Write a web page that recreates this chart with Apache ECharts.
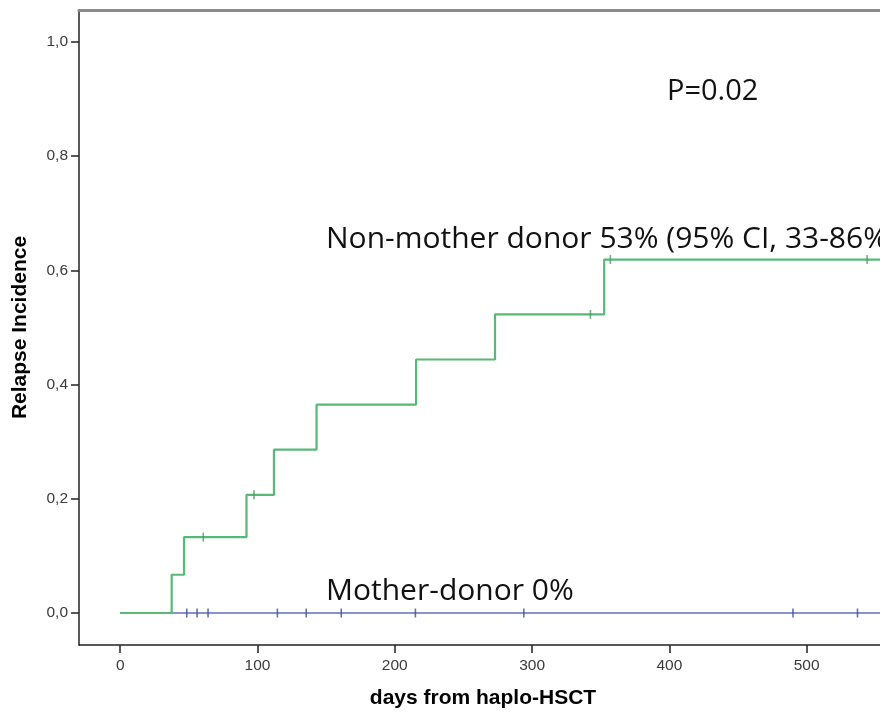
<!DOCTYPE html>
<html>
<head>
<meta charset="utf-8">
<script src="https://cdn.jsdelivr.net/npm/echarts@6/dist/echarts.min.js"></script>
<style>html,body{margin:0;padding:0;background:#fff;}#c{width:880px;height:718px;}</style>
</head>
<body>
<div id="c"></div>
<script>
// Non-mother donor cumulative incidence steps (days, incidence)
const nonMotherTimes = [0, 37.5, 46.5, 92, 112, 143, 215.5, 273, 352.5, 560];
const nonMotherValues = [0, 0.067, 0.133, 0.207, 0.286, 0.365, 0.444, 0.523, 0.619, 0.619];
// Censored observations, non-mother donor
const nonMotherCensorTimes = [60.5, 97.5, 342.5, 357, 544];
const nonMotherCensorValues = [0.133, 0.207, 0.523, 0.619, 0.619];
// Mother donor: no relapses
const motherTimes = [0, 560];
const motherValues = [0, 0];
const motherCensorTimes = [48.5, 56, 64, 114.5, 135.5, 161, 215, 294, 490, 537];
// Tick labels
const xTicks = [0, 100, 200, 300, 400, 500];
const yTicks = [0, 0.2, 0.4, 0.6, 0.8, 1.0];

const toPairs = (xs, ys) => xs.map((x, i) => [x, ys[i]]);

const chart = echarts.init(document.getElementById('c'), null, {renderer: 'canvas'});
const annoFont = '"Open Sans", "Noto Sans", sans-serif';
const axisFont = '"Liberation Sans", Arial, sans-serif';
chart.setOption({
  animation: false,
  backgroundColor: '#ffffff',
  grid: {left: 79, right: 0, top: 10, bottom: 73, containLabel: false},
  xAxis: [{
    type: 'value', min: -30, max: 553.4,
    name: 'days from haplo-HSCT', nameLocation: 'middle', nameGap: 43,
    nameTextStyle: {fontFamily: axisFont, fontWeight: 'bold', fontSize: 21, color: '#000', verticalAlign: 'top', padding: [0, 0, 0, 7]},
    axisLine: {show: true, onZero: false, lineStyle: {color: '#222', width: 1.5}},
    axisTick: {show: true, inside: false, length: 8, lineStyle: {color: '#222', width: 1.5}, customValues: xTicks},
    axisLabel: {customValues: xTicks, fontFamily: axisFont, fontSize: 15.5, color: '#3a3a3a', margin: 13},
    splitLine: {show: false}
  }, {
    type: 'value', position: 'top', min: -30, max: 553.4,
    axisLine: {show: true, onZero: false, lineStyle: {color: '#8a8a8a', width: 3}},
    axisTick: {show: false}, axisLabel: {show: false}, splitLine: {show: false}
  }],
  yAxis: {
    type: 'value', min: -0.056, max: 1.056,
    name: 'Relapse Incidence', nameLocation: 'middle', nameGap: 48, nameRotate: 90,
    nameTextStyle: {fontFamily: axisFont, fontWeight: 'bold', fontSize: 21, color: '#000'},
    axisLine: {show: true, onZero: false, lineStyle: {color: '#222', width: 1.5}},
    axisTick: {show: true, inside: false, length: 8, lineStyle: {color: '#222', width: 1.5}, customValues: yTicks},
    axisLabel: {customValues: yTicks, fontFamily: axisFont, fontSize: 15.5, color: '#3a3a3a', margin: 11,
      formatter: v => v.toFixed(1).replace('.', ',')},
    splitLine: {show: false}
  },
  series: [
    {type: 'line', name: 'Mother-donor', data: toPairs(motherTimes, motherValues), showSymbol: false,
      lineStyle: {color: '#6271b8', width: 1.6}, z: 2, clip: true},
    {type: 'scatter', data: motherCensorTimes.map(t => [t, 0]), symbol: 'rect', symbolSize: [1.6, 9],
      itemStyle: {color: '#3d4d9e'}, z: 3, silent: true},
    {type: 'line', name: 'Non-mother donor', step: 'end', data: toPairs(nonMotherTimes, nonMotherValues), showSymbol: false,
      lineStyle: {color: '#58b878', width: 2.2}, z: 4, clip: true},
    {type: 'scatter', data: toPairs(nonMotherCensorTimes, nonMotherCensorValues), symbol: 'rect', symbolSize: [1.6, 9],
      itemStyle: {color: '#4a9a62'}, z: 5, silent: true}
  ],
  graphic: [
    {type: 'text', left: 667, top: 77, style: {text: 'P=0.02', font: '29px ' + annoFont, fill: '#111'}},
    {type: 'text', left: 326, top: 224, style: {text: 'Non-mother donor 53% (95% CI, 33-86%)', font: '30px ' + annoFont, fill: '#111'}},
    {type: 'text', left: 326, top: 576, style: {text: 'Mother-donor 0%', font: '30px ' + annoFont, fill: '#111'}}
  ]
});
</script>
</body>
</html>
